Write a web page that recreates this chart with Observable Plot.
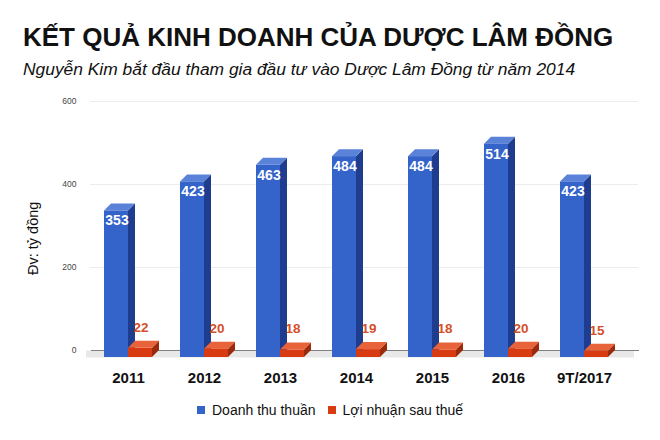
<!DOCTYPE html>
<html>
<head>
<meta charset="utf-8">
<script src="https://cdn.jsdelivr.net/npm/d3@7"></script>
<script src="https://cdn.jsdelivr.net/npm/@observablehq/plot@0.6"></script>
<style>
  body { margin: 0; background: #fff; font-family: "Liberation Sans", Arial, sans-serif; }
  #wrap { position: relative; width: 660px; height: 440px; overflow: hidden; }
  #title { position: absolute; left: 23px; top: 24px; font-weight: bold; font-size: 26px; line-height: 26px; color: #111; white-space: nowrap; }
  #subtitle { position: absolute; left: 23px; top: 61px; font-style: italic; font-size: 17.4px; line-height: 17.4px; color: #111; white-space: nowrap; }
  #chart { position: absolute; left: 0; top: 90px; }
  #legend { position: absolute; left: 0; top: 402px; width: 660px; display: flex; justify-content: center; align-items: center; font-size: 14px; line-height: 16px; color: #111; }
  .sw { display: inline-block; width: 8px; height: 8px; margin-right: 7px; }
  .item { display: flex; align-items: center; margin: 0 6px; }
</style>
</head>
<body>
<div id="wrap">
  <div id="title">KẾT QUẢ KINH DOANH CỦA DƯỢC LÂM ĐỒNG</div>
  <div id="subtitle">Nguyễn Kim bắt đầu tham gia đầu tư vào Dược Lâm Đồng từ năm 2014</div>
  <div id="chart"></div>
  <div id="legend"></div>
</div>
<script>
const years = ["2011", "2012", "2013", "2014", "2015", "2016", "9T/2017"];
const revenue = [353, 423, 463, 484, 484, 514, 423];
const profit = [22, 20, 18, 19, 18, 20, 15];
const yTicks = [0, 200, 400, 600];
const seriesNames = ["Doanh thu thuần", "Lợi nhuận sau thuế"];
const axisLabel = "Đv: tỷ đồng";

const palette = {
  "bar-rev": {front: "#3463c9", side: "#1f3d8f", top: "#5a82d8"},
  "bar-pro": {front: "#d83a12", side: "#9a2a0c", top: "#e8623a"}
};

const rows = years.map((y, i) => ({year: y, rev: revenue[i], pro: profit[i]}));

const plot = Plot.plot({
  width: 660,
  height: 300,
  marginTop: 11,
  marginBottom: 40,
  marginLeft: 90,
  marginRight: 22,
  style: {fontFamily: "Liberation Sans, Arial, sans-serif", background: "transparent"},
  x: {domain: years, range: [90, 622], padding: 0, label: null},
  y: {domain: [0, 600], label: null},
  marks: [
    Plot.ruleY(yTicks.filter(d => d > 0), {stroke: "#ececec", strokeWidth: 1}),
    Plot.ruleY([0], {stroke: "#e8e8e8", strokeWidth: 7, dy: 3.5, dx: -4}),
    Plot.ruleY([0], {stroke: "#808080", strokeWidth: 1.2, dx: 1}),
    Plot.axisY({ticks: yTicks, tickSize: 0, tickPadding: 14, fontSize: 8.5, fill: "#444", label: null}),
    Plot.axisX({tickSize: 0, tickPadding: 22, fontSize: 15, fontWeight: "bold", fill: "#111", label: null}),
    Plot.text([axisLabel], {frameAnchor: "left", dx: -57, dy: 49, rotate: -90, fontSize: 14.5, fill: "#111"}),
    Plot.barY(rows, {x: "year", y: "rev", fill: palette["bar-rev"].front, insetLeft: 21, insetRight: 31, className: "bar-rev"}),
    Plot.barY(rows, {x: "year", y: "pro", fill: palette["bar-pro"].front, insetLeft: 45, insetRight: 7, className: "bar-pro"}),
    Plot.text(rows, {x: "year", y: "rev", text: d => String(d.rev), dx: -11.5, dy: 17, fill: "white", fontWeight: "bold", fontSize: 14}),
    Plot.text(rows, {x: "year", y: "pro", text: d => String(d.pro), dx: 12.5, dy: -14, fill: "#d4502a", fontWeight: "bold", fontSize: 13.5})
  ]
});

// turn each flat bar into a pseudo-3D box (front, side, top)
const D = 7;
const NS = "http://www.w3.org/2000/svg";
for (const cls of Object.keys(palette)) {
  const col = palette[cls];
  plot.querySelectorAll(`g.${cls} rect`).forEach(r => {
    const x = +r.getAttribute("x"), y = +r.getAttribute("y");
    const w = +r.getAttribute("width"), h = +r.getAttribute("height");
    const g = r.parentNode;
    const side = document.createElementNS(NS, "polygon");
    side.setAttribute("points", `${x + w - D},${y + D} ${x + w},${y} ${x + w},${y + h} ${x + w - D},${y + h + D}`);
    side.setAttribute("fill", col.side);
    const top = document.createElementNS(NS, "polygon");
    top.setAttribute("points", `${x - D},${y + D} ${x},${y} ${x + w},${y} ${x + w - D},${y + D}`);
    top.setAttribute("fill", col.top);
    r.setAttribute("x", x - D);
    r.setAttribute("y", y + D);
    g.insertBefore(side, r);
    g.insertBefore(top, r);
  });
}

document.getElementById("chart").appendChild(plot);

const legend = document.getElementById("legend");
seriesNames.forEach((name, i) => {
  const item = document.createElement("div");
  item.className = "item";
  const sw = document.createElement("span");
  sw.className = "sw";
  sw.style.background = i === 0 ? palette["bar-rev"].front : palette["bar-pro"].front;
  item.appendChild(sw);
  item.appendChild(document.createTextNode(name));
  legend.appendChild(item);
});
</script>
</body>
</html>
